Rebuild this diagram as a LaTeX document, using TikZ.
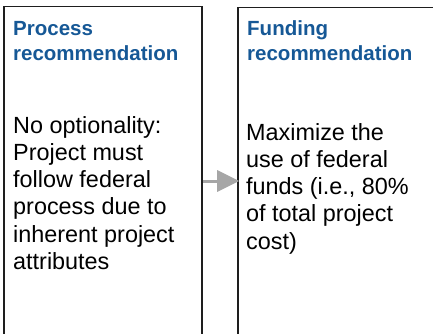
\documentclass[tikz,border=0pt]{standalone}
\usepackage{fontspec}
\setmainfont{Liberation Sans}
\usetikzlibrary{arrows.meta}
\definecolor{headblue}{RGB}{22,88,150}
\definecolor{arrowgray}{RGB}{166,166,166}
\definecolor{boxline}{RGB}{30,30,30}
\tikzset{
  panel/.style={draw=boxline, line width=1.6pt, fill=white, inner sep=0pt},
  headtext/.style={anchor=base west, inner sep=0pt, text=headblue,
    font=\fontsize{20.5}{25}\selectfont\bfseries},
  bodytext/.style={anchor=base west, inner sep=0pt, text=black,
    font=\fontsize{23.4}{27.3}\selectfont},
  flowarrow/.style={draw=arrowgray, line width=3pt,
    -{Triangle[length=22pt,width=21pt]}, arrowgray}
}
\begin{document}
\begin{tikzpicture}[x=1pt,y=-1pt]
\useasboundingbox (0,0) rectangle (433,334);
\clip (0,0) rectangle (433,334);
\node[panel, minimum width=198pt, minimum height=349pt] (left) at (103,181) {};
\node[panel, minimum width=210pt, minimum height=347pt] (right) at (343,181) {};
\node[headtext] (lhead) at (13,36) {\parbox[t]{185pt}{\raggedright Process\\recommendation}};
\node[headtext] (rhead) at (247,36) {\parbox[t]{185pt}{\raggedright Funding\\recommendation}};
\node[bodytext] (lbody) at (13,133) {\parbox[t]{188pt}{\raggedright No optionality:\\Project must\\follow federal\\process due to\\inherent project\\attributes}};
\node[bodytext] (rbody) at (246,140) {\parbox[t]{188pt}{\raggedright Maximize the\\use of federal\\funds (i.e., 80\%\\of total project\\cost)}};
\draw[flowarrow, shorten >=-2pt] (left.east) -- (right.west);
\end{tikzpicture}
\end{document}
